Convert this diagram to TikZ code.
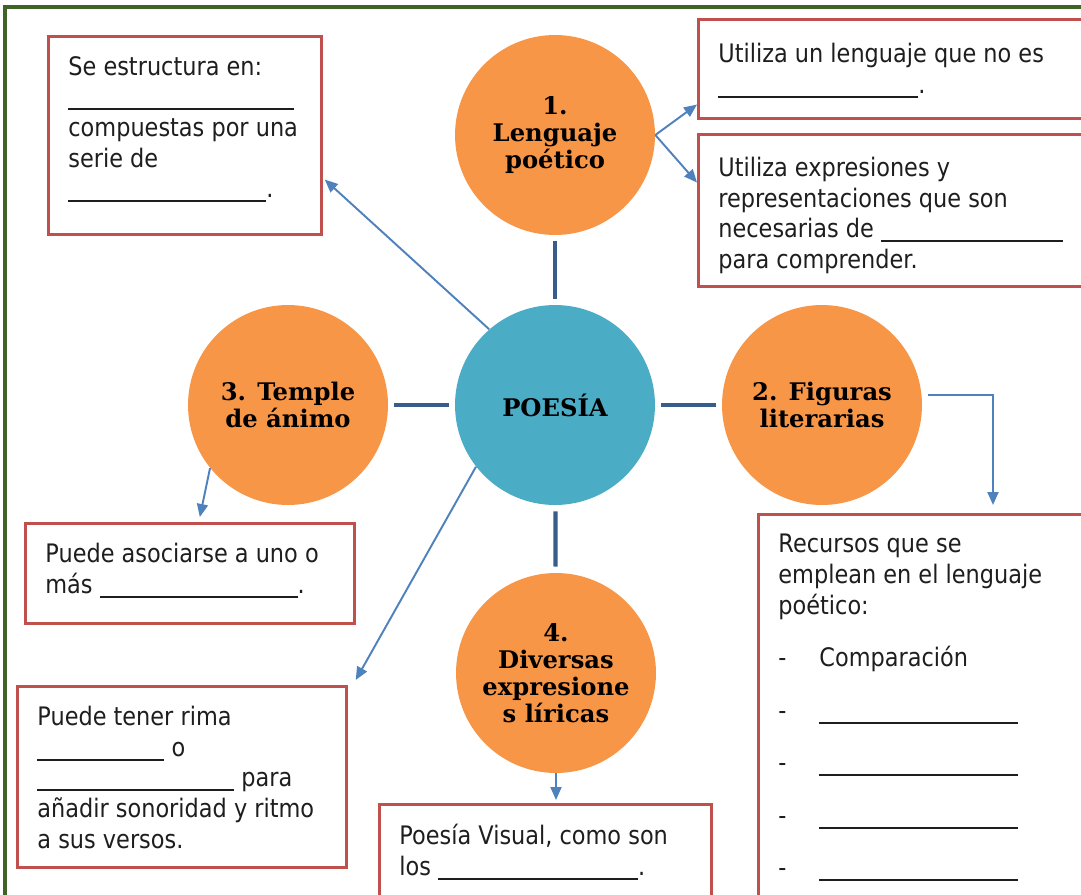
\documentclass[tikz,border=0pt]{standalone}
\usepackage{fontspec}
\setmainfont{DejaVu Sans}[FakeStretch=0.88]
\newfontfamily\topicfont{DejaVu Serif}
\usepackage{xcolor}
\definecolor{poeOrange}{RGB}{247,150,70}
\definecolor{poeTeal}{RGB}{75,172,198}
\definecolor{poeRed}{RGB}{192,80,77}
\definecolor{poeBlue}{RGB}{79,129,189}
\definecolor{poeNavy}{RGB}{56,93,138}
\definecolor{poeGreen}{RGB}{64,100,40}
\definecolor{poeInk}{RGB}{30,30,30}
\usepackage{tikz}
\usetikzlibrary{positioning,arrows.meta,calc}
\newcommand{\blank}[1]{\rule[-0.09cm]{#1}{1.2pt}}
\newcommand{\boxtext}[3]{\hspace{0.4cm}\parbox[c][\dimexpr#2-0.8cm\relax][t]{\dimexpr#1-0.4cm\relax}{\raggedright#3}}
\newcommand{\dashitem}{\makebox[0.82cm][l]{-}}
\tikzset{
  qbox/.style={rectangle,draw=poeRed,fill=white,line width=1.6pt,
    anchor=north west,inner xsep=0pt,inner ysep=0.4cm,text=poeInk,
    font={\fontsize{14.5}{17.4}\selectfont}},
  topic/.style={circle,fill=poeOrange,minimum size=4cm,inner sep=0pt,
    align=center,text=black,font={\topicfont\bfseries\fontsize{13.8}{15.3}\selectfont}},
  core/.style={topic,fill=poeTeal},
  spoke/.style={draw=poeNavy,line width=2.4pt,shorten <=0.12cm,shorten >=0.12cm},
  link/.style={-{Triangle[length=2.6mm,width=2.2mm]},draw=poeBlue,line width=1.1pt}
}

\begin{document}
\begin{tikzpicture}[x=0.02cm,y=-0.02cm]
  \useasboundingbox (0,0) rectangle (1081,895);
  \clip (0,0) rectangle (1081,895);
  \draw[draw=poeGreen,line width=2.2pt] (5,7) rectangle (1120,930);

  % circles
  \node[core] (poesia) at (555,405) {POESÍA};
  \node[topic] (lenguaje) at (555,135) {1.\\Lenguaje\\poético};
  \node[topic] (figuras) at (822,405) {2. Figuras\\literarias};
  \node[topic] (temple) at (288,405) {3. Temple\\de ánimo};
  \node[topic] (diversas) at (556,673) {4.\\Diversas\\expresione\\s líricas};

  % boxes
  \node[qbox] (estructura) at (47,35) {\boxtext{5.46cm}{3.96cm}{Se estructura en:\\
    \blank{4.52cm}\\compuestas por una\\serie de\\\blank{3.96cm}.}};
  \node[qbox] (noliteral) at (697,18) {\boxtext{8.1cm}{1.98cm}{\vspace{0.08cm}Utiliza un lenguaje que no es\\
    \blank{4cm}.}};
  \node[qbox] (saberes) at (697,133) {\boxtext{8.1cm}{3.04cm}{\vspace{0.06cm}Utiliza expresiones y\\
    representaciones que son\\necesarias de \blank{3.64cm}\\para comprender.}};
  \node[qbox] (animos) at (24,522) {\boxtext{6.58cm}{2cm}{Puede asociarse a uno o\\
    más \blank{3.96cm}.}};
  \node[qbox] (rima) at (16,685) {\boxtext{6.58cm}{3.62cm}{Puede tener rima\\
    \blank{2.54cm} o\\\blank{3.94cm} para\\añadir sonoridad y ritmo\\a sus versos.}};
  \node[qbox] (visual) at (378,803) {\boxtext{6.64cm}{2.4cm}{Poesía Visual, como son\\
    los \blank{4cm}.}};
  \node[qbox] (recursos) at (757,513) {\boxtext{7cm}{8.2cm}{Recursos que se\\
    emplean en el lenguaje\\poético:\\[0.44cm]
    \dashitem Comparación\\[0.44cm]
    \dashitem\blank{3.98cm}\\[0.44cm]
    \dashitem\blank{3.98cm}\\[0.44cm]
    \dashitem\blank{3.98cm}\\[0.44cm]
    \dashitem\blank{3.98cm}}};

  % spokes
  \draw[spoke] (lenguaje) -- (poesia);
  \draw[spoke] (temple) -- (poesia);
  \draw[spoke] (poesia) -- (figuras);
  \draw[spoke] (poesia) -- (diversas);

  % arrows to boxes
  \draw[link] (lenguaje.east) -- ($(noliteral.north west)!0.85!(noliteral.south west)$);
  \draw[link] (lenguaje.east) -- ($(saberes.north west)!0.32!(saberes.south west)$);
  \draw[link] (poesia.131) -- ($(estructura.north east)!0.72!(estructura.south east)+(2,0)$);
  \draw[link] (temple.219) -- ($(animos.north west)!0.53!(animos.north east)+(0,-5)$);
  \draw[link] (poesia.218) -- ($(rima.north east)+(8,-5)$);
  \draw[link] (diversas.south) -- ($(diversas.south |- visual.north)+(0,-3)$);
  \draw[link] ($(figuras.east)+(6,-10)$) -| ($(recursos.north west)+(236,-8)$);
\end{tikzpicture}
\end{document}
